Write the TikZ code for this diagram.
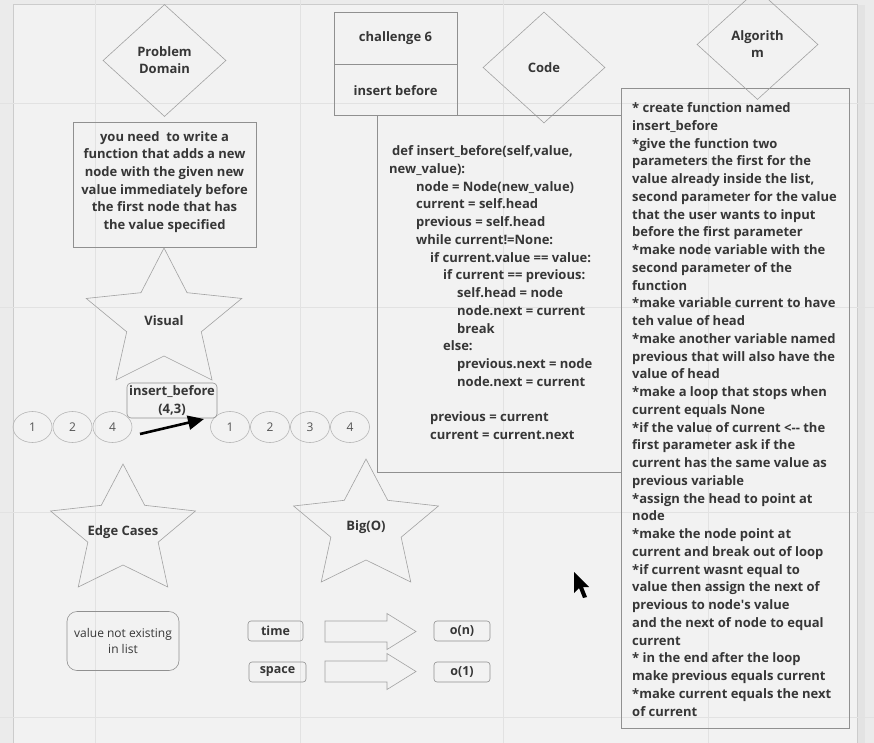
\documentclass[tikz,border=0pt]{standalone}
\usepackage{fontspec}
\setmainfont{Open Sans}
\usetikzlibrary{shapes.geometric, positioning, arrows.meta}
\definecolor{boardbg}{HTML}{EBEBEB}
\definecolor{framebg}{HTML}{F2F2F2}
\definecolor{gridline}{HTML}{E2E2E2}
\definecolor{shapeline}{HTML}{A2A2A2}
\definecolor{boxline}{HTML}{909090}
\definecolor{inktext}{HTML}{363636}
\newcommand{\boardstar}[3]{\draw[starline, shift={(#1.center)}, xscale=1.12] (270:#2) \foreach \a in {0,...,4} {-- (306+72*\a:#3) -- (342+72*\a:#2)} -- cycle;}
\newcommand{\blockarrow}[1]{\draw[starline, shift={(#1)}] (-91,-10.5) -- (-29,-10.5) -- (-29,-18) -- (0,0) -- (-29,18) -- (-29,10.5) -- (-91,10.5) -- cycle;}

\begin{document}
\begin{tikzpicture}[x=1pt, y=-1pt]
  \tikzset{diam/.style = {shape=diamond, draw=shapeline, line width=0.6pt, minimum width=123pt, minimum height=112pt, inner sep=0pt, align=center, text=inktext, font=\bfseries\fontsize{13}{17}\selectfont}}
  \tikzset{box/.style = {draw=boxline, line width=0.7pt, inner sep=0pt, align=center, text=inktext, font=\bfseries\fontsize{13}{17.6}\selectfont}}
  \tikzset{bodytext/.style = {inner sep=0pt, anchor=north west, align=left, text=inktext, font=\bfseries\fontsize{13}{17.75}\selectfont}}
  \tikzset{starline/.style = {draw=shapeline, line width=0.6pt}}
  \tikzset{startext/.style = {text=inktext, font=\bfseries\fontsize{13}{15}\selectfont}}
  \tikzset{listnode/.style = {shape=ellipse, draw=shapeline!80, line width=0.6pt, minimum width=39pt, minimum height=31pt, inner sep=0pt, text=inktext!85, font=\fontsize{12}{14}\selectfont}}
  \tikzset{tag/.style = {draw=boxline, line width=0.6pt, rounded corners=3pt, minimum height=20pt, inner sep=0pt, text=inktext, font=\bfseries\fontsize{12.5}{14}\selectfont}}

  \useasboundingbox (0,0) rectangle (874,743);
  \fill[boardbg] (0,0) rectangle (874,743);
  \fill[framebg] (13,5) rectangle (857,743);
  \fill[black!11] (857,5) rectangle (865,743);
  \draw[black!20, line width=1pt] (13,743) -- (13,5) -- (857,5) -- (857,743);
  \foreach \gx in {95,300,503,708} \draw[gridline, line width=0.8pt] (\gx,0) -- (\gx,743);
  \foreach \gy in {103,307,512,717} \draw[gridline, line width=0.8pt] (0,\gy) -- (874,\gy);

  \node[diam] (pd) at (164.5,60.5) {Problem\\Domain};
  \node[box, minimum width=183pt, minimum height=125pt] (pbox) at (164.5,184.5) {};
  \node[box, draw=none] (ptext) at (164.5,182) {you need\ \ to write a\\function that adds a new\\node with the given new\\value immediately before\\the first node that has\\the value specified};

  \node[box, minimum width=123pt, minimum height=52pt] (chal) at (395.5,38) {challenge 6};
  \node[box, minimum width=123pt, minimum height=51pt, below=0pt of chal] (insb) {insert before};

  \node[diam, minimum width=122pt, minimum height=111pt] (code) at (544,67.5) {Code};
  \node[box, minimum width=244pt, minimum height=357pt] (codebox) at (499,293.5) {};
  \node[bodytext] (codetext) at (389,145.5) {\hspace*{3pt}def insert\_before(self,value,\\new\_value):\\
    \hspace*{27pt}node = Node(new\_value)\\
    \hspace*{27pt}current = self.head\\
    \hspace*{27pt}previous = self.head\\
    \hspace*{27pt}while current!=None:\\
    \hspace*{41pt}if current.value == value:\\
    \hspace*{54pt}if current == previous:\\
    \hspace*{68pt}self.head = node\\
    \hspace*{68pt}node.next = current\\
    \hspace*{68pt}break\\
    \hspace*{54pt}else:\\
    \hspace*{68pt}previous.next = node\\
    \hspace*{68pt}node.next = current\\[17.75pt]
    \hspace*{41pt}previous = current\\
    \hspace*{41pt}current = current.next};

  \node[box, minimum width=228pt, minimum height=640pt] (algobox) at (735,408) {};
  \node[diam, minimum width=121pt, minimum height=110pt] (algo) at (757.5,44.5) {Algorith\\m};
  \node[bodytext] (algotext) at (632,102.5) {* create function named\\insert\_before\\*give the function two\\parameters the first for the\\value already inside the list,\\second parameter for the value\\that the user wants to input\\before the first parameter\\*make node variable with the\\second parameter of the\\function\\*make variable current to have\\teh value of head\\*make another variable named\\previous that will also have the\\value of head\\*make a loop that stops when\\current equals None\\*if the value of current <-\kern0pt- the\\first parameter ask if the\\current has the same value as\\previous variable\\*assign the head to point at\\node\\*make the node point at\\current and break out of loop\\*if current wasnt equal to\\value then assign the next of\\previous to node\textquotesingle s value\\and the next of node to equal\\current\\* in the end after the loop\\make previous equals current\\*make current equals the next\\of current};

  \node[startext] (vis) at (164,321) {Visual};
  \boardstar{vis}{73}{35}
  \node[startext] (edge) at (123,532) {Edge Cases};
  \boardstar{edge}{68}{33}
  \node[startext] (bigo) at (366,527) {Big(O)};
  \boardstar{bigo}{68}{33}

  \foreach \v [count=\i] in {1,2,4} \node[listnode] (l\i) at (-7.5+40*\i,427) {\v};
  \foreach \v [count=\i] in {1,2,3,4} \node[listnode] (r\i) at (190+40*\i,427) {\v};
  \node[tag, rounded corners=4pt, minimum width=90pt, minimum height=35pt, align=center, font=\bfseries\fontsize{13}{18}\selectfont] (call) at (172,400.5) {insert\_before\\(4,3)};
  \coordinate (arrtail) at (140,434);
  \coordinate (arrtip) at (204,419);
  \draw[black, line width=2.6pt, -{Triangle[length=16pt, width=14pt]}] (arrtail) -- (arrtip);

  \node[tag, rounded corners=10pt, minimum width=112pt, minimum height=59pt, align=center, font=\fontsize{12}{16}\selectfont] (notexist) at (123,641) {value not existing\\in list};

  \node[tag, minimum width=55pt] (time) at (275.5,631) {time};
  \node[tag, minimum width=57pt] (space) at (277.5,672) {space};
  \node[tag, minimum width=56pt] (on) at (462,631) {o(n)};
  \node[tag, minimum width=56pt] (o1) at (462,672) {o(1)};
  \blockarrow{416,631.5}
  \blockarrow{416,671.5}

  \fill[black] (574,572) -- (574,593) -- (579,588) -- (583,598) -- (587,597) -- (583,587) -- (589,587) -- cycle;
\end{tikzpicture}
\end{document}
